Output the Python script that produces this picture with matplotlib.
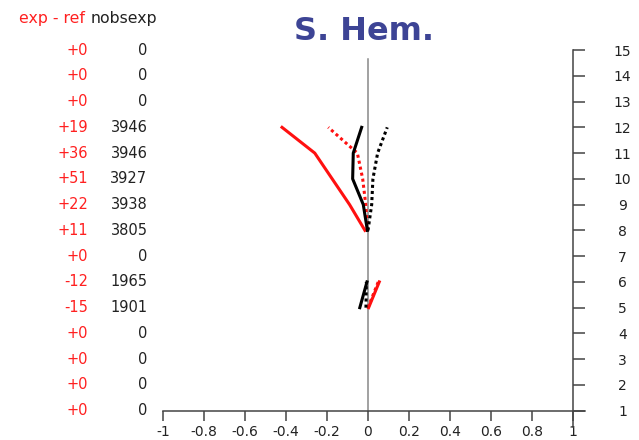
import numpy as np
import matplotlib
matplotlib.use("Agg")
import matplotlib.pyplot as plt
from matplotlib.transforms import blended_transform_factory

# ---- data ----
levels = np.arange(15, 0, -1)                 # rows from top (15) to bottom (1)
exp_minus_ref = ["+0", "+0", "+0", "+19", "+36", "+51", "+22", "+11",
                 "+0", "-12", "-15", "+0", "+0", "+0", "+0"]
nobsexp = ["0", "0", "0", "3946", "3946", "3927", "3938", "3805",
           "0", "1965", "1901", "0", "0", "0", "0"]

line_levels = [5, 6, 8, 9, 10, 11, 12]
nan = np.nan
red_solid    = [0.003, 0.055, nan, -0.015, -0.09, -0.175, -0.26, -0.42]
red_dotted   = [0.0, 0.05, nan, -0.003, -0.011, -0.026, -0.052, -0.194]
black_solid  = [-0.04, -0.005, nan, -0.003, -0.023, -0.075, -0.072, -0.031]
black_dotted = [-0.01, -0.008, nan, 0.0, 0.018, 0.024, 0.047, 0.094]
line_y = [5, 6, 7, 8, 9, 10, 11, 12]

xticks = [-1, -0.8, -0.6, -0.4, -0.2, 0, 0.2, 0.4, 0.6, 0.8, 1]
xtick_labels = ["-1", "-0.8", "-0.6", "-0.4", "-0.2", "0", "0.2", "0.4", "0.6", "0.8", "1"]
yticks = list(range(1, 16))

title = "S. Hem."

# ---- figure ----
W, H = 639, 440
fig = plt.figure(figsize=(W / 100, H / 100), dpi=100)
plt.rcParams['font.family'] = ['DejaVu Sans']

px_unit_x = 204.7
px_unit_y = 25.76
x0_px = 163.3           # pixel of x=-1
y1_px = 410.7           # pixel (from top) of level 1
xmin, xmax = -1, 1.06
ymin, ymax = 0.38, 15
left = x0_px / W
width = (xmax - xmin) * px_unit_x / W
bottom_px = y1_px + (1 - ymin) * px_unit_y
bottom = (H - bottom_px) / H
height = (ymax - ymin) * px_unit_y / H
ax = fig.add_axes([left, bottom, width, height])
ax.set_xlim(xmin, xmax)
ax.set_ylim(ymin, ymax)
ax.patch.set_alpha(0)

axcol = "#444444"
for s in ["top", "left"]:
    ax.spines[s].set_visible(False)
ax.spines["bottom"].set_position(("data", 1))
ax.spines["bottom"].set_bounds(-1, 1.06)
ax.spines["right"].set_position(("data", 1))
ax.spines["right"].set_bounds(ymin, 15)
for s in ["bottom", "right"]:
    ax.spines[s].set_color(axcol)
    ax.spines[s].set_linewidth(1.1)

ax.set_xticks(xticks)
ax.set_xticklabels(xtick_labels)
ax.tick_params(axis="x", direction="out", length=7, width=1.1, color=axcol,
               labelsize=10, pad=3, labelcolor="#222222")
ax.yaxis.set_ticks_position("right")
ax.set_yticks(yticks)
ax.set_yticklabels([str(v) for v in yticks])
ax.tick_params(axis="y", direction="out", length=8.6, width=1.1, color=axcol,
               labelsize=10, pad=27.4, labelcolor="#222222")
for lab in ax.get_yticklabels():
    lab.set_horizontalalignment("center")

# zero line
ax.plot([0, 0], [1, 14.65], color="#888888", lw=1.1, clip_on=False, zorder=1)

lw = 2.2
ax.plot(red_solid, line_y, color="#ff1010", lw=lw, clip_on=False, zorder=3)
ax.plot(red_dotted, line_y, color="#ff1010", lw=lw, ls=(0, (1, 1)), clip_on=False, zorder=3)
ax.plot(black_solid, line_y, color="black", lw=lw, clip_on=False, zorder=4)
ax.plot(black_dotted, line_y, color="black", lw=lw, ls=(0, (1, 1)), clip_on=False, zorder=4)

# left text columns
tr = blended_transform_factory(fig.transFigure, ax.transData)
for lev, a, b in zip(levels, exp_minus_ref, nobsexp):
    ax.text(88 / W, lev, a, transform=tr, ha="right", va="center",
            fontsize=10.5, color="#ff2020")
    ax.text(147.5 / W, lev, b, transform=tr, ha="right", va="center",
            fontsize=10.5, color="#222222")

fig.text(19 / W, (H - 18) / H, "exp - ref", ha="left", va="center",
         fontsize=11.3, color="#ff2020")
fig.text(90.5 / W, (H - 18) / H, "nobsexp", ha="left", va="center",
         fontsize=11.3, color="#222222")

fig.text(363.5 / W, (H - 40) / H, title, ha="center", va="baseline",
         fontsize=23, fontweight="bold", color="#3d4495")

fig.savefig("out.png", dpi=100)
